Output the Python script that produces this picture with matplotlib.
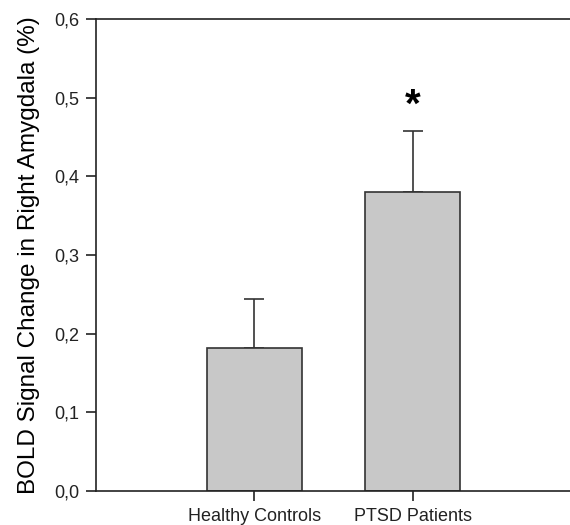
import numpy as np
import matplotlib
matplotlib.use('Agg')
import matplotlib.pyplot as plt
from matplotlib.ticker import FuncFormatter

groups = ['Healthy Controls', 'PTSD Patients']
means = [0.182, 0.380]
sem = [0.062, 0.078]
yticks = [0.0, 0.1, 0.2, 0.3, 0.4, 0.5, 0.6]

plt.rcParams['font.family'] = ['Liberation Sans', 'DejaVu Sans']

fig = plt.figure(figsize=(5.7, 5.25), dpi=100)
ax = fig.add_axes([96 / 570, 34 / 525, 475 / 570, 472 / 525])

x = np.arange(1, len(groups) + 1)
ax.bar(x, means, width=0.6, color='#c8c8c8', edgecolor='#333333', linewidth=1.2, zorder=2)
ax.errorbar(x, means, yerr=[np.zeros(len(sem)), sem], fmt='none', ecolor='#333333',
            elinewidth=1.2, capsize=7, capthick=1.2, zorder=1)

# significance marker above PTSD
ax.text(x[1], 0.490, '*', ha='center', va='center', fontsize=29, fontweight='bold')

ax.set_xlim(0, 3)
ax.set_ylim(0, 0.6)
ax.set_xticks(x)
ax.set_xticklabels(groups)
ax.set_yticks(yticks)
ax.yaxis.set_major_formatter(FuncFormatter(lambda v, loc: f"{v:.1f}".replace('.', ',')))
ax.tick_params(axis='both', direction='out', length=7, width=1.2, labelsize=13, colors='#222222')
ax.tick_params(axis='y', pad=5)
ax.tick_params(axis='x', pad=5)

for side in ['left', 'bottom', 'top']:
    ax.spines[side].set_linewidth(1.2)
    ax.spines[side].set_color('#222222')
ax.spines['right'].set_visible(False)

ax.set_ylabel('BOLD Signal Change in Right Amygdala (%)', fontsize=17.5, labelpad=10)

fig.savefig('out.png', dpi=100)
